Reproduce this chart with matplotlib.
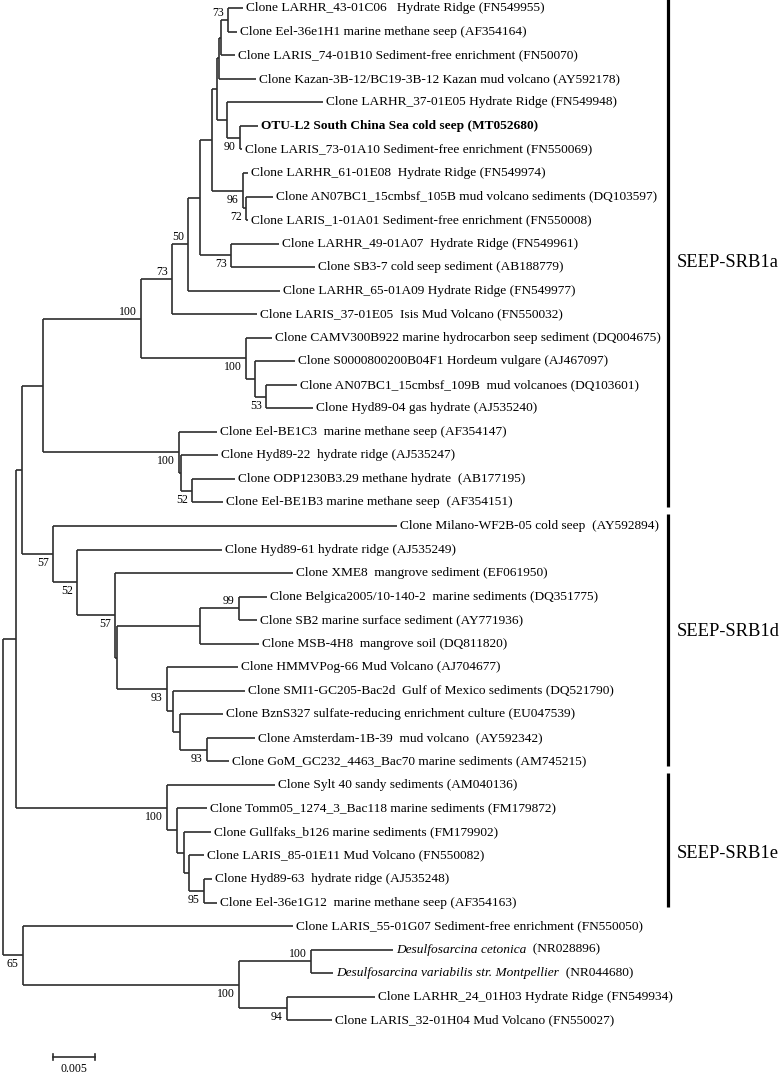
import matplotlib.pyplot as plt

plt.rcParams['font.family'] = ['Liberation Serif', 'DejaVu Serif']

# leaves, top to bottom
leaf_names = [
    "Clone LARHR_43-01C06   Hydrate Ridge (FN549955)",
    "Clone Eel-36e1H1 marine methane seep (AF354164)",
    "Clone LARIS_74-01B10 Sediment-free enrichment (FN50070)",
    "Clone Kazan-3B-12/BC19-3B-12 Kazan mud volcano (AY592178)",
    "Clone LARHR_37-01E05 Hydrate Ridge (FN549948)",
    "OTU-L2 South China Sea cold seep (MT052680)",
    "Clone LARIS_73-01A10 Sediment-free enrichment (FN550069)",
    "Clone LARHR_61-01E08  Hydrate Ridge (FN549974)",
    "Clone AN07BC1_15cmbsf_105B mud volcano sediments (DQ103597)",
    "Clone LARIS_1-01A01 Sediment-free enrichment (FN550008)",
    "Clone LARHR_49-01A07  Hydrate Ridge (FN549961)",
    "Clone SB3-7 cold seep sediment (AB188779)",
    "Clone LARHR_65-01A09 Hydrate Ridge (FN549977)",
    "Clone LARIS_37-01E05  Isis Mud Volcano (FN550032)",
    "Clone CAMV300B922 marine hydrocarbon seep sediment (DQ004675)",
    "Clone S0000800200B04F1 Hordeum vulgare (AJ467097)",
    "Clone AN07BC1_15cmbsf_109B  mud volcanoes (DQ103601)",
    "Clone Hyd89-04 gas hydrate (AJ535240)",
    "Clone Eel-BE1C3  marine methane seep (AF354147)",
    "Clone Hyd89-22  hydrate ridge (AJ535247)",
    "Clone ODP1230B3.29 methane hydrate  (AB177195)",
    "Clone Eel-BE1B3 marine methane seep  (AF354151)",
    "Clone Milano-WF2B-05 cold seep  (AY592894)",
    "Clone Hyd89-61 hydrate ridge (AJ535249)",
    "Clone XME8  mangrove sediment (EF061950)",
    "Clone Belgica2005/10-140-2  marine sediments (DQ351775)",
    "Clone SB2 marine surface sediment (AY771936)",
    "Clone MSB-4H8  mangrove soil (DQ811820)",
    "Clone HMMVPog-66 Mud Volcano (AJ704677)",
    "Clone SMI1-GC205-Bac2d  Gulf of Mexico sediments (DQ521790)",
    "Clone BznS327 sulfate-reducing enrichment culture (EU047539)",
    "Clone Amsterdam-1B-39  mud volcano  (AY592342)",
    "Clone GoM_GC232_4463_Bac70 marine sediments (AM745215)",
    "Clone Sylt 40 sandy sediments (AM040136)",
    "Clone Tomm05_1274_3_Bac118 marine sediments (FM179872)",
    "Clone Gullfaks_b126 marine sediments (FM179902)",
    "Clone LARIS_85-01E11 Mud Volcano (FN550082)",
    "Clone Hyd89-63  hydrate ridge (AJ535248)",
    "Clone Eel-36e1G12  marine methane seep (AF354163)",
    "Clone LARIS_55-01G07 Sediment-free enrichment (FN550050)",
    "Desulfosarcina cetonica  (NR028896)",
    "Desulfosarcina variabilis str. Montpellier  (NR044680)",
    "Clone LARHR_24_01H03 Hydrate Ridge (FN549934)",
    "Clone LARIS_32-01H04 Mud Volcano (FN550027)",
]
# distance from root (substitutions per site) of each leaf tip
leaf_tips = [0.02857, 0.02786, 0.02762, 0.03012, 0.03810, 0.03036, 0.02845,
             0.02917, 0.03214, 0.02914, 0.03286, 0.03714, 0.03298, 0.03024,
             0.03202, 0.03476, 0.03500, 0.03690, 0.02548, 0.02560, 0.02762,
             0.02619, 0.04690, 0.02607, 0.03452, 0.03143, 0.03024, 0.03048,
             0.02798, 0.02881, 0.02619, 0.03000, 0.02690, 0.03238, 0.02429,
             0.02476, 0.02393, 0.02488, 0.02548, 0.03452, 0.04643, 0.03929,
             0.04429, 0.03917]
bold_leaves = [5]
italic_leaves = [40, 41]

# internal nodes: ids start at 44, children listed before parents
node_kids = [(0, 1), (44, 2), (45, 3), (5, 6), (4, 47), (46, 48), (8, 9),
             (7, 50), (49, 51), (10, 11), (52, 53), (54, 12), (55, 13),
             (16, 17), (15, 57), (14, 58), (56, 59), (20, 21), (19, 61),
             (18, 62), (60, 63), (25, 26), (65, 27), (31, 32), (30, 67),
             (29, 68), (28, 69), (66, 70), (24, 71), (23, 72), (22, 73),
             (64, 74), (37, 38), (36, 76), (35, 77), (34, 78), (33, 79),
             (75, 80), (40, 41), (42, 43), (82, 83), (39, 84), (81, 85)]
node_depth = [0.02679, 0.02595, 0.02571, 0.02821, 0.02667, 0.02548, 0.02893,
              0.02857, 0.02488, 0.02714, 0.02345, 0.02202, 0.02012, 0.03131,
              0.03000, 0.02893, 0.01643, 0.02250, 0.02119, 0.02095, 0.00476,
              0.02810, 0.02345, 0.02429, 0.02107, 0.02024, 0.01952, 0.01357,
              0.01333, 0.00881, 0.00595, 0.00226, 0.02393, 0.02214, 0.02155,
              0.02071, 0.01952, 0.00155, 0.03667, 0.03381, 0.02810, 0.00238,
              0.0]
node_boot = [73, None, None, 90, None, None, 72, 96, None, 73, None, 50, 73,
             53, None, 100, 100, 52, None, 100, None, 99, None, 93, None,
             None, 93, None, 57, 52, 57, None, 95, None, None, None, 100,
             None, 100, 94, 100, 65, None]
boot_side = ['a', None, None, 'b', None, None, 'b', 'b', None, 'b', None,
             'a', 'a', 'b', None, 'b', 'a', 'b', None, 'b', None, 'a', None,
             'b', None, None, 'b', None, 'b', 'b', 'b', None, 'b', None, None,
             None, 'b', None, 'a', 'b', 'b', 'b', None]

groups = ['SEEP-SRB1a', 'SEEP-SRB1d', 'SEEP-SRB1e']
group_first = [0, 22, 33]
group_last = [21, 32, 38]
group_label_row = [10.8, 26.5, 35.9]

scale_len = 0.005

n_leaf = len(leaf_names)
xs = list(leaf_tips) + list(node_depth)
ys = list(range(n_leaf)) + [0.0] * len(node_kids)
for i, (a, b) in enumerate(node_kids):
    ys[n_leaf + i] = (ys[a] + ys[b]) / 2

fig = plt.figure(figsize=(7.83, 10.75), dpi=100)
ax = fig.add_axes([0, 0, 1, 1])
ax.set_xlim(-3 / 8400, 780 / 8400)
ax.set_ylim(45.33, -0.353)
ax.axis('off')

lc = '#2e2e2e'
lw = 1.2
fs = 9.6
for i, (a, b) in enumerate(node_kids):
    nid = n_leaf + i
    x = xs[nid]
    ax.plot([x, x], [ys[a], ys[b]], color=lc, lw=lw, solid_capstyle='butt')
    for c in (a, b):
        ax.plot([x, xs[c]], [ys[c], ys[c]], color=lc, lw=lw,
                solid_capstyle='butt')
    if node_boot[i] is not None:
        dy = 5 if boot_side[i] == 'a' else -6.5
        ax.annotate(str(node_boot[i]), (x, ys[nid]), xytext=(-3, dy),
                    textcoords='offset points', ha='right', va='center',
                    fontsize=8.5)

for i, name in enumerate(leaf_names):
    if i in italic_leaves:
        k = name.rfind('  (')
        t = ax.annotate(name[:k], (leaf_tips[i], i), xytext=(2, 0),
                        textcoords='offset points', ha='left', va='center',
                        fontsize=fs, style='italic')
        ax.annotate(name[k:], (1, 0.5), xycoords=t, ha='left', va='center',
                    fontsize=fs)
    else:
        ax.annotate(name, (leaf_tips[i], i), xytext=(2, 0),
                    textcoords='offset points', ha='left', va='center',
                    fontsize=fs,
                    fontweight='bold' if i in bold_leaves else 'normal')

bar_x = 665 / 8400
for g, f, l, r in zip(groups, group_first, group_last, group_label_row):
    ax.plot([bar_x, bar_x], [f - 0.5, l + 0.2], color='black', lw=2.3,
            solid_capstyle='butt')
    ax.text(bar_x + 9 / 8400, r, g, ha='left', va='center', fontsize=13.3)

# scale bar
sx = 50 / 8400
sy = 44.57
ax.plot([sx, sx + scale_len], [sy, sy], color=lc, lw=1.2)
for e in (sx, sx + scale_len):
    ax.plot([e, e], [sy - 0.13, sy + 0.13], color=lc, lw=1.2)
ax.text(sx + scale_len / 2, sy + 0.5, str(scale_len), ha='center',
        va='center', fontsize=8.5)

fig.savefig('out.png', dpi=100)
